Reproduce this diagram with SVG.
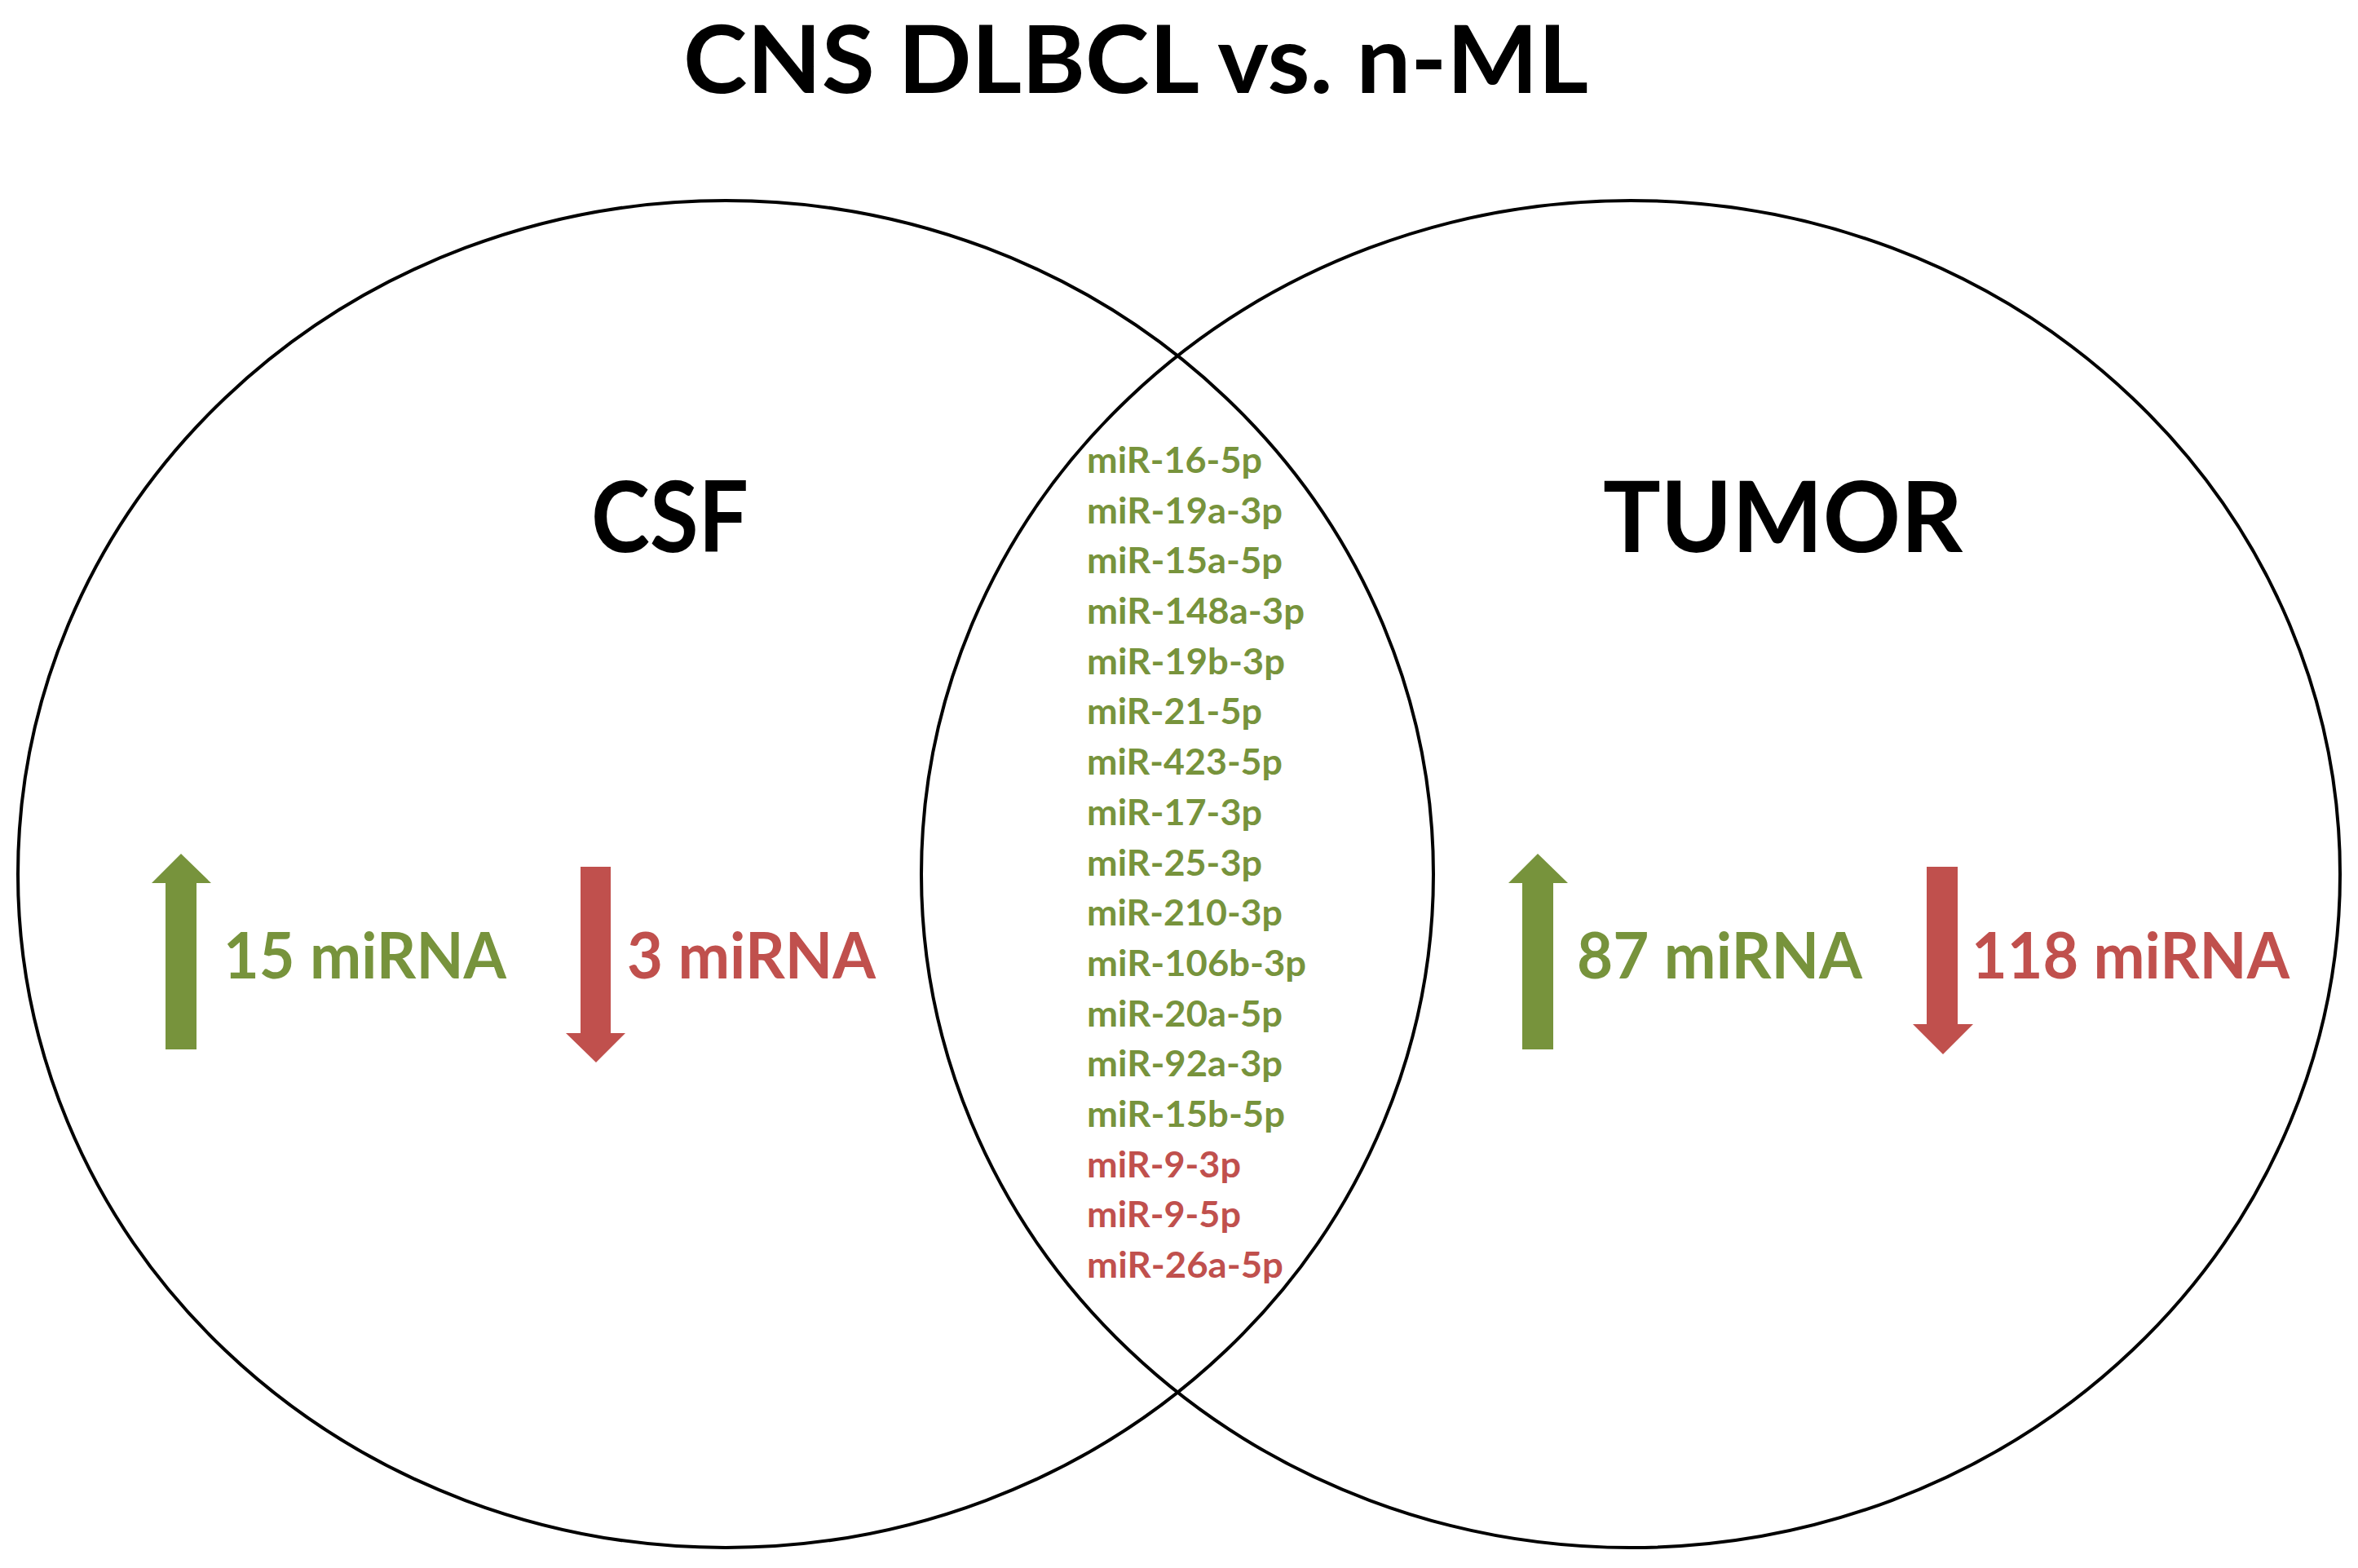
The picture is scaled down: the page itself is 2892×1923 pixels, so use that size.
<svg xmlns="http://www.w3.org/2000/svg" width="2892" height="1923" viewBox="0 0 2892 1923">
<style>
  text { font-family: Lato, "Open Sans", "Liberation Sans", sans-serif; font-weight: bold; }
  .big { font-size: 120px; fill: #000000; }
  .title { font-size: 114px; fill: #000000; }
  .count { font-size: 78px; }
  .mir { font-size: 44px; }
  .g { fill: #77933C; }
  .r { fill: #C0504D; }
  .set { fill: none; stroke: #000000; stroke-width: 4; }
</style>
<rect width="2892" height="1923" fill="#ffffff"/>
<g id="title">
  <text class="title" x="838" y="114" textLength="1110" lengthAdjust="spacingAndGlyphs">CNS DLBCL vs. n-ML</text>
</g>
<g id="csf-set">
  <ellipse class="set" cx="890" cy="1072" rx="868" ry="826"/>
  <text class="big" x="725" y="677" textLength="193" lengthAdjust="spacingAndGlyphs">CSF</text>
  <polygon class="g" points="222,1047 259,1083 241,1083 241,1287 203,1287 203,1083 186,1083"/>
  <text class="count g" x="274" y="1200" textLength="347" lengthAdjust="spacingAndGlyphs">15 miRNA</text>
  <polygon class="r" points="712,1063 749,1063 749,1267 767,1267 731,1303 694,1267 712,1267"/>
  <text class="count r" x="769" y="1200" textLength="305" lengthAdjust="spacingAndGlyphs">3 miRNA</text>
</g>
<g id="tumor-set">
  <ellipse class="set" cx="2000" cy="1072" rx="870" ry="826"/>
  <text class="big" x="1966" y="677" textLength="441" lengthAdjust="spacingAndGlyphs">TUMOR</text>
  <polygon class="g" points="1886,1047 1923,1083 1905,1083 1905,1287 1867,1287 1867,1083 1850,1083"/>
  <text class="count g" x="1934" y="1200" textLength="350" lengthAdjust="spacingAndGlyphs">87 miRNA</text>
  <polygon class="r" points="2363,1063 2401,1063 2401,1256 2420,1256 2383,1293 2346,1256 2363,1256"/>
  <text class="count r" x="2418" y="1200" textLength="390" lengthAdjust="spacingAndGlyphs">118 miRNA</text>
</g>
<g id="overlap-list">
  <text class="mir g" x="1333" y="580" textLength="215" lengthAdjust="spacingAndGlyphs">miR-16-5p</text>
  <text class="mir g" x="1333" y="642" textLength="240" lengthAdjust="spacingAndGlyphs">miR-19a-3p</text>
  <text class="mir g" x="1333" y="703" textLength="240" lengthAdjust="spacingAndGlyphs">miR-15a-5p</text>
  <text class="mir g" x="1333" y="765" textLength="267" lengthAdjust="spacingAndGlyphs">miR-148a-3p</text>
  <text class="mir g" x="1333" y="827" textLength="243" lengthAdjust="spacingAndGlyphs">miR-19b-3p</text>
  <text class="mir g" x="1333" y="888" textLength="215" lengthAdjust="spacingAndGlyphs">miR-21-5p</text>
  <text class="mir g" x="1333" y="950" textLength="240" lengthAdjust="spacingAndGlyphs">miR-423-5p</text>
  <text class="mir g" x="1333" y="1012" textLength="215" lengthAdjust="spacingAndGlyphs">miR-17-3p</text>
  <text class="mir g" x="1333" y="1074" textLength="215" lengthAdjust="spacingAndGlyphs">miR-25-3p</text>
  <text class="mir g" x="1333" y="1135" textLength="240" lengthAdjust="spacingAndGlyphs">miR-210-3p</text>
  <text class="mir g" x="1333" y="1197" textLength="269" lengthAdjust="spacingAndGlyphs">miR-106b-3p</text>
  <text class="mir g" x="1333" y="1259" textLength="240" lengthAdjust="spacingAndGlyphs">miR-20a-5p</text>
  <text class="mir g" x="1333" y="1320" textLength="240" lengthAdjust="spacingAndGlyphs">miR-92a-3p</text>
  <text class="mir g" x="1333" y="1382" textLength="243" lengthAdjust="spacingAndGlyphs">miR-15b-5p</text>
  <text class="mir r" x="1333" y="1444" textLength="189" lengthAdjust="spacingAndGlyphs">miR-9-3p</text>
  <text class="mir r" x="1333" y="1505" textLength="189" lengthAdjust="spacingAndGlyphs">miR-9-5p</text>
  <text class="mir r" x="1333" y="1567" textLength="241" lengthAdjust="spacingAndGlyphs">miR-26a-5p</text>
</g>
<g id="connectors"></g>
</svg>
